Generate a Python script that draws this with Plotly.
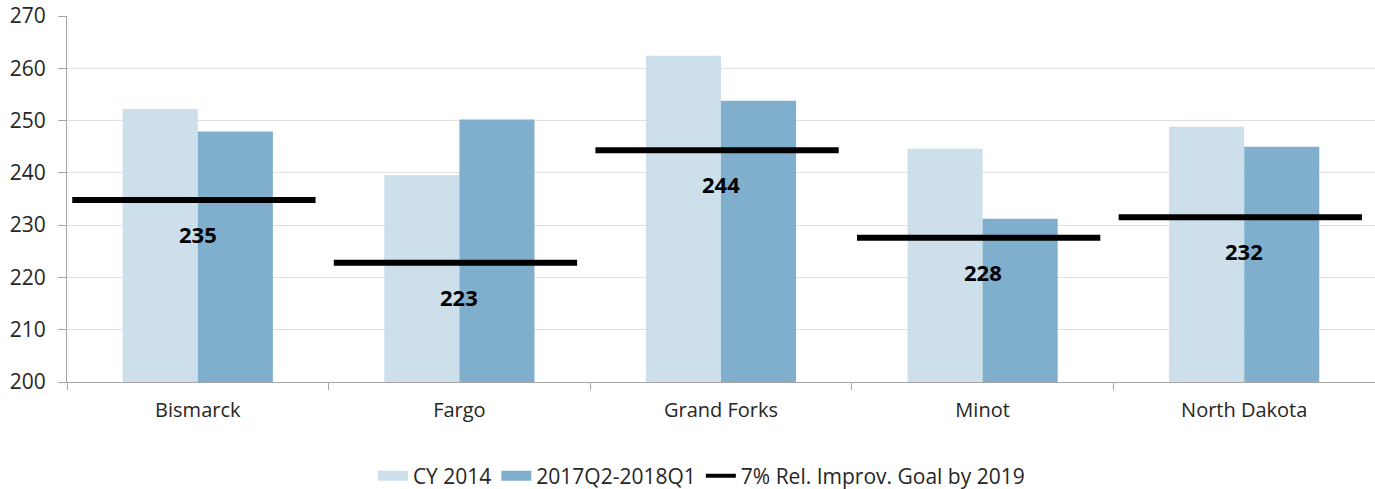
import plotly.graph_objects as go

categories = ["Bismarck", "Fargo", "Grand Forks", "Minot", "North Dakota"]
cy2014 = [252.2, 239.6, 262.4, 244.6, 248.8]
recent = [247.9, 250.2, 253.8, 231.2, 245.0]
goal = [234.8, 222.8, 244.3, 227.6, 231.5]
goal_labels = ["235", "223", "244", "228", "232"]
series_names = ["CY 2014", "2017Q2-2018Q1", "7% Rel. Improv. Goal by 2019"]
y_ticks = [200, 210, 220, 230, 240, 250, 260, 270]

FONT = "'Open Sans', sans-serif"
C1 = "#CCDFEA"
C2 = "#7FAFCC"

fig = go.Figure()
fig.add_trace(go.Bar(x=categories, y=cy2014, name=series_names[0], showlegend=False,
                     marker=dict(color=C1, line=dict(width=0))))
fig.add_trace(go.Bar(x=categories, y=recent, name=series_names[1], showlegend=False,
                     marker=dict(color=C2, line=dict(width=0))))

gx, gy = [], []
for i, g in enumerate(goal):
    gx += [i - 0.48, i + 0.45, None]
    gy += [g, g, None]
fig.add_trace(go.Scatter(x=gx, y=gy, mode="lines", name=series_names[2],
                         showlegend=False,
                         line=dict(color="black", width=6), xaxis="x2",
                         hoverinfo="skip"))

# legend-only proxies (wide swatches like the original)
fig.add_trace(go.Scatter(x=[None], y=[None], mode="lines", name=series_names[0],
                         line=dict(color=C1, width=11), xaxis="x2"))
fig.add_trace(go.Scatter(x=[None], y=[None], mode="lines", name=series_names[1],
                         line=dict(color=C2, width=11), xaxis="x2"))
fig.add_trace(go.Scatter(x=[None], y=[None], mode="lines", name=series_names[2],
                         line=dict(color="black", width=4), xaxis="x2"))

for i, (g, lab) in enumerate(zip(goal, goal_labels)):
    fig.add_annotation(x=i, y=g, xref="x2", yref="y", text="<b>" + lab + "</b>",
                       showarrow=False, yshift=-34,
                       font=dict(family=FONT, size=22, color="black"))

fig.update_layout(
    width=1375, height=489,
    margin=dict(l=67, r=0, t=16, b=107, autoexpand=False),
    paper_bgcolor="white", plot_bgcolor="white",
    barmode="group", bargap=0.426, bargroupgap=0,
    font=dict(family=FONT, size=20, color="#262626"),
    xaxis=dict(type="category", tickson="boundaries", ticks="outside",
               ticklen=7, tickcolor="#A6A6A6", showline=True,
               linecolor="#A6A6A6", linewidth=1, showgrid=False,
               tickfont=dict(size=20, color="#262626"), range=[-0.5, 4.5],
               automargin=False, ticklabelstandoff=10),
    xaxis2=dict(overlaying="x", range=[-0.5, 4.5], visible=False,
                showgrid=False, zeroline=False, automargin=False),
    yaxis=dict(range=[200, 270], tickvals=y_ticks, ticks="outside",
               ticklen=8, tickcolor="#A6A6A6", showline=True,
               linecolor="#A6A6A6", linewidth=1, gridcolor="#E0E0E0",
               gridwidth=1, zeroline=False, automargin=False,
               ticklabelstandoff=8,
               tickfont=dict(size=21, color="#262626")),
    legend=dict(orientation="h", x=0.485, xanchor="center", y=-0.257,
                yanchor="middle", font=dict(size=21, color="#262626"),
                itemwidth=30, traceorder="normal", tracegroupgap=0),
    showlegend=True,
)

fig.write_html("out.html", config={"displayModeBar": False},
               post_script="document.body.style.margin='0';")
